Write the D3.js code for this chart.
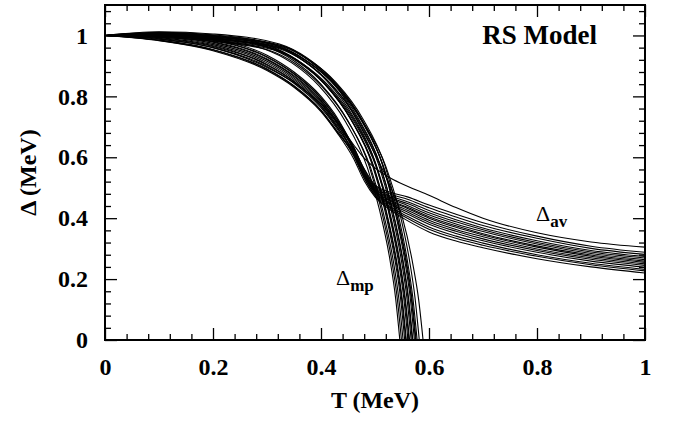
<!DOCTYPE html>
<html><head><meta charset="utf-8">
<script src="https://cdn.jsdelivr.net/npm/d3@7"></script>
<style>
html,body{margin:0;padding:0;background:#fff;}
svg{display:block;font-family:"Liberation Serif","Times New Roman",serif;font-weight:bold;}
</style></head>
<body><svg id="c" width="673" height="426"></svg>
<script>
// ---- data ----
const xMajorTicks = [0, 0.2, 0.4, 0.6, 0.8, 1];
const xTickLabels = ["0", "0.2", "0.4", "0.6", "0.8", "1"];
const xMinorTicks = [0.04,0.08,0.12,0.16,0.24,0.28,0.32,0.36,0.44,0.48,0.52,0.56,0.64,0.68,0.72,0.76,0.84,0.88,0.92,0.96];
const yMajorTicks = [0, 0.2, 0.4, 0.6, 0.8, 1];
const yTickLabels = ["0", "0.2", "0.4", "0.6", "0.8", "1"];
const yMinorTicks = [0.04,0.08,0.12,0.16,0.24,0.28,0.32,0.36,0.44,0.48,0.52,0.56,0.64,0.68,0.72,0.76,0.84,0.88,0.92,0.96,1.04,1.08];

// Delta_mp curves: [T, Delta] pairs
const mp1  = [[0,1],[0.1,0.998],[0.2,0.985],[0.296,0.955],[0.346,0.91],[0.396,0.835],[0.446,0.715],[0.486,0.565],[0.508,0.43],[0.528,0.26],[0.538,0.14],[0.546,0]];
const mp2  = [[0,1],[0.1,1.004],[0.2,0.993],[0.299,0.962],[0.349,0.918],[0.399,0.842],[0.449,0.722],[0.489,0.572],[0.511,0.432],[0.531,0.26],[0.541,0.14],[0.549,0]];
const mp3  = [[0,1],[0.1,0.995],[0.2,0.98],[0.302,0.952],[0.352,0.908],[0.402,0.832],[0.452,0.712],[0.492,0.565],[0.514,0.428],[0.534,0.258],[0.544,0.138],[0.552,0]];
const mp4  = [[0,1],[0.1,1.008],[0.2,0.998],[0.305,0.965],[0.355,0.92],[0.405,0.845],[0.455,0.725],[0.495,0.575],[0.517,0.435],[0.537,0.262],[0.547,0.142],[0.555,0]];
const mp5  = [[0,1],[0.1,1.0],[0.2,0.988],[0.308,0.958],[0.358,0.913],[0.408,0.838],[0.458,0.718],[0.498,0.568],[0.52,0.43],[0.54,0.26],[0.55,0.14],[0.558,0]];
const mp6  = [[0,1],[0.1,1.01],[0.2,1.002],[0.311,0.97],[0.361,0.925],[0.411,0.85],[0.461,0.73],[0.501,0.58],[0.523,0.437],[0.543,0.262],[0.553,0.142],[0.561,0]];
const mp7  = [[0,1],[0.1,0.997],[0.2,0.985],[0.314,0.955],[0.364,0.91],[0.414,0.835],[0.464,0.715],[0.504,0.566],[0.526,0.43],[0.546,0.258],[0.556,0.138],[0.564,0]];
const mp8  = [[0,1],[0.1,1.005],[0.2,0.995],[0.317,0.963],[0.367,0.918],[0.417,0.843],[0.467,0.723],[0.507,0.574],[0.529,0.434],[0.549,0.26],[0.559,0.14],[0.567,0]];
const mp9  = [[0,1],[0.1,1.002],[0.2,0.99],[0.32,0.958],[0.37,0.914],[0.42,0.838],[0.47,0.72],[0.51,0.57],[0.532,0.43],[0.552,0.26],[0.562,0.14],[0.570,0]];
const mp10 = [[0,1],[0.1,1.012],[0.2,1.005],[0.323,0.972],[0.373,0.928],[0.423,0.852],[0.473,0.732],[0.513,0.58],[0.535,0.437],[0.555,0.262],[0.565,0.142],[0.573,0]];
const mp11 = [[0,1],[0.1,0.999],[0.2,0.988],[0.326,0.958],[0.376,0.912],[0.426,0.838],[0.476,0.718],[0.516,0.568],[0.538,0.43],[0.558,0.26],[0.568,0.14],[0.576,0]];
const mp12 = [[0,1],[0.1,1.006],[0.2,0.997],[0.328,0.966],[0.378,0.92],[0.428,0.845],[0.478,0.725],[0.518,0.575],[0.54,0.433],[0.56,0.26],[0.57,0.14],[0.578,0]];
const mp13 = [[0,1],[0.1,1.003],[0.2,0.995],[0.33,0.962],[0.38,0.915],[0.43,0.835],[0.48,0.71],[0.52,0.57],[0.544,0.43],[0.564,0.26],[0.574,0.14],[0.582,0]];
const mp14 = [[0,1],[0.1,1.008],[0.2,1.0],[0.33,0.965],[0.38,0.915],[0.43,0.83],[0.47,0.71],[0.5,0.61],[0.527,0.51],[0.551,0.40],[0.571,0.24],[0.581,0.13],[0.589,0]];
const mp15 = [[0,1],[0.1,1.003],[0.2,0.992],[0.307,0.96],[0.357,0.916],[0.407,0.84],[0.457,0.72],[0.497,0.57],[0.519,0.432],[0.539,0.26],[0.549,0.14],[0.557,0]];
const mp16 = [[0,1],[0.1,0.994],[0.2,0.982],[0.313,0.952],[0.363,0.908],[0.413,0.832],[0.463,0.712],[0.503,0.564],[0.525,0.428],[0.545,0.258],[0.555,0.138],[0.563,0]];
const mp17 = [[0,1],[0.1,1.007],[0.2,0.998],[0.319,0.967],[0.369,0.922],[0.419,0.848],[0.469,0.728],[0.509,0.578],[0.531,0.436],[0.551,0.262],[0.561,0.142],[0.569,0]];
const mp18 = [[0,1],[0.1,1.001],[0.2,0.99],[0.325,0.96],[0.375,0.915],[0.425,0.84],[0.475,0.72],[0.515,0.572],[0.537,0.432],[0.557,0.26],[0.567,0.14],[0.575,0]];

// Delta_av curves: values at shared temperatures
const avT  = [0, 0.1, 0.2, 0.3, 0.35, 0.4, 0.43, 0.46, 0.48, 0.5, 0.53, 0.56, 0.6, 0.65, 0.7, 0.8, 0.9, 1.0];
const av1  = [1, 0.983, 0.95, 0.885, 0.83, 0.75, 0.68, 0.597, 0.523, 0.47, 0.425, 0.392, 0.355, 0.325, 0.303, 0.267, 0.24, 0.22];
const av2  = [1, 0.997, 0.974, 0.915, 0.86, 0.78, 0.71, 0.612, 0.533, 0.474, 0.431, 0.40, 0.364, 0.334, 0.311, 0.275, 0.247, 0.227];
const av3  = [1, 0.989, 0.96, 0.898, 0.843, 0.763, 0.693, 0.606, 0.532, 0.477, 0.436, 0.406, 0.371, 0.341, 0.318, 0.28, 0.252, 0.232];
const av4  = [1, 1.003, 0.984, 0.928, 0.873, 0.793, 0.723, 0.622, 0.541, 0.481, 0.442, 0.414, 0.38, 0.35, 0.326, 0.288, 0.259, 0.239];
const av5  = [1, 0.993, 0.966, 0.905, 0.85, 0.77, 0.70, 0.614, 0.539, 0.484, 0.446, 0.42, 0.387, 0.357, 0.332, 0.294, 0.265, 0.245];
const av6  = [1, 1.007, 0.99, 0.935, 0.88, 0.80, 0.73, 0.63, 0.547, 0.487, 0.45, 0.426, 0.393, 0.363, 0.339, 0.299, 0.27, 0.25];
const av7  = [1, 0.985, 0.954, 0.89, 0.835, 0.755, 0.685, 0.61, 0.541, 0.49, 0.455, 0.432, 0.40, 0.37, 0.345, 0.305, 0.275, 0.255];
const av8  = [1, 1.0, 0.978, 0.92, 0.865, 0.785, 0.715, 0.626, 0.549, 0.492, 0.458, 0.436, 0.405, 0.375, 0.349, 0.309, 0.279, 0.259];
const av9  = [1, 0.991, 0.964, 0.903, 0.848, 0.768, 0.698, 0.62, 0.547, 0.495, 0.463, 0.442, 0.411, 0.381, 0.356, 0.315, 0.284, 0.264];
const av10 = [1, 1.005, 0.986, 0.93, 0.875, 0.795, 0.725, 0.635, 0.556, 0.498, 0.467, 0.448, 0.418, 0.388, 0.362, 0.32, 0.289, 0.269];
const av11 = [1, 0.984, 0.952, 0.888, 0.833, 0.753, 0.683, 0.615, 0.549, 0.501, 0.472, 0.454, 0.425, 0.395, 0.368, 0.326, 0.294, 0.274];
const av12 = [1, 1.001, 0.98, 0.923, 0.868, 0.788, 0.718, 0.635, 0.56, 0.505, 0.478, 0.462, 0.434, 0.404, 0.376, 0.334, 0.301, 0.281];
const av13 = [1, 0.995, 0.97, 0.91, 0.855, 0.775, 0.705, 0.632, 0.562, 0.509, 0.484, 0.47, 0.443, 0.413, 0.385, 0.341, 0.308, 0.288];
const av14 = [1, 0.988, 0.96, 0.895, 0.845, 0.775, 0.713, 0.642, 0.597, 0.565, 0.53, 0.505, 0.475, 0.435, 0.40, 0.352, 0.322, 0.305];

const mpCurves = [mp1,mp2,mp3,mp4,mp5,mp6,mp7,mp8,mp9,mp10,mp11,mp12,mp13,mp14,mp15,mp16,mp17,mp18];
const avCurves = [av1,av2,av3,av4,av5,av6,av7,av8,av9,av10,av11,av12,av13,av14];

// ---- layout ----
const L = 105, R = 645, TOP = 5, B = 340;
const svg = d3.select("#c");
const x = d3.scaleLinear().domain([0, 1]).range([L, R]);
const y = d3.scaleLinear().domain([0, 1.1]).range([B, TOP]);

svg.append("defs").append("clipPath").attr("id", "clip")
  .append("rect").attr("x", L).attr("y", TOP).attr("width", R - L).attr("height", B - TOP);

const line = d3.line().x(d => x(d[0])).y(d => y(d[1])).curve(d3.curveMonotoneX);
const g = svg.append("g").attr("clip-path", "url(#clip)");
g.selectAll("path.mp").data(mpCurves).enter().append("path")
  .attr("class", "mp").attr("d", line)
  .attr("fill", "none").attr("stroke", "#000").attr("stroke-width", 1.1);
g.selectAll("path.av").data(avCurves.map(c => c.map((v, i) => [avT[i], v]))).enter().append("path")
  .attr("class", "av").attr("d", line)
  .attr("fill", "none").attr("stroke", "#000").attr("stroke-width", 1.1);

// ---- axes (ticks inward on all four sides) ----
function styleAxis(sel) {
  sel.select(".domain").remove();
  sel.selectAll(".tick line").attr("stroke", "#000").attr("stroke-width", 1.3);
  sel.selectAll("text").attr("fill", "#000").style("font-family", '"Liberation Serif", serif')
     .style("font-weight", "bold").style("font-size", "24px");
}
const fmtX = (d, i) => xTickLabels[i];
const fmtY = (d, i) => yTickLabels[i];

svg.append("g").attr("transform", `translate(0,${B})`)
  .call(d3.axisBottom(x).tickValues(xMajorTicks).tickFormat(fmtX).tickSizeInner(-12).tickSizeOuter(0).tickPadding(18))
  .call(styleAxis);
svg.append("g").attr("transform", `translate(0,${B})`)
  .call(d3.axisBottom(x).tickValues(xMinorTicks).tickFormat("").tickSizeInner(-6).tickSizeOuter(0))
  .call(styleAxis);
svg.append("g").attr("transform", `translate(0,${TOP})`)
  .call(d3.axisTop(x).tickValues(xMajorTicks).tickFormat("").tickSizeInner(-12).tickSizeOuter(0))
  .call(styleAxis);
svg.append("g").attr("transform", `translate(0,${TOP})`)
  .call(d3.axisTop(x).tickValues(xMinorTicks).tickFormat("").tickSizeInner(-6).tickSizeOuter(0))
  .call(styleAxis);
svg.append("g").attr("transform", `translate(${L},0)`)
  .call(d3.axisLeft(y).tickValues(yMajorTicks).tickFormat(fmtY).tickSizeInner(-12).tickSizeOuter(0).tickPadding(17))
  .call(styleAxis);
svg.append("g").attr("transform", `translate(${L},0)`)
  .call(d3.axisLeft(y).tickValues(yMinorTicks).tickFormat("").tickSizeInner(-6).tickSizeOuter(0))
  .call(styleAxis);
svg.append("g").attr("transform", `translate(${R},0)`)
  .call(d3.axisRight(y).tickValues(yMajorTicks).tickFormat("").tickSizeInner(-12).tickSizeOuter(0))
  .call(styleAxis);
svg.append("g").attr("transform", `translate(${R},0)`)
  .call(d3.axisRight(y).tickValues(yMinorTicks).tickFormat("").tickSizeInner(-6).tickSizeOuter(0))
  .call(styleAxis);

// frame
svg.append("rect").attr("x", L).attr("y", TOP).attr("width", R - L).attr("height", B - TOP)
  .attr("fill", "none").attr("stroke", "#000").attr("stroke-width", 2);

// axis titles
svg.append("text").attr("x", (L + R) / 2).attr("y", 408).attr("text-anchor", "middle")
  .style("font-size", "24px").text("T (MeV)");
svg.append("text").attr("transform", `translate(36,${(TOP + B) / 2}) rotate(-90)`)
  .attr("text-anchor", "middle").style("font-size", "24px").text("Δ (MeV)");

// annotations
svg.append("text").attr("x", 597).attr("y", 44).attr("text-anchor", "end")
  .style("font-size", "27px").text("RS Model");
const tav = svg.append("text").attr("x", 536).attr("y", 221).style("font-size", "22px");
tav.append("tspan").style("font-weight", "normal").text("Δ");
tav.append("tspan").attr("dy", 6).style("font-size", "17px").text("av");
const tmp = svg.append("text").attr("x", 336).attr("y", 285).style("font-size", "22px");
tmp.append("tspan").style("font-weight", "normal").text("Δ");
tmp.append("tspan").attr("dy", 6).style("font-size", "17px").text("mp");
</script></body></html>
